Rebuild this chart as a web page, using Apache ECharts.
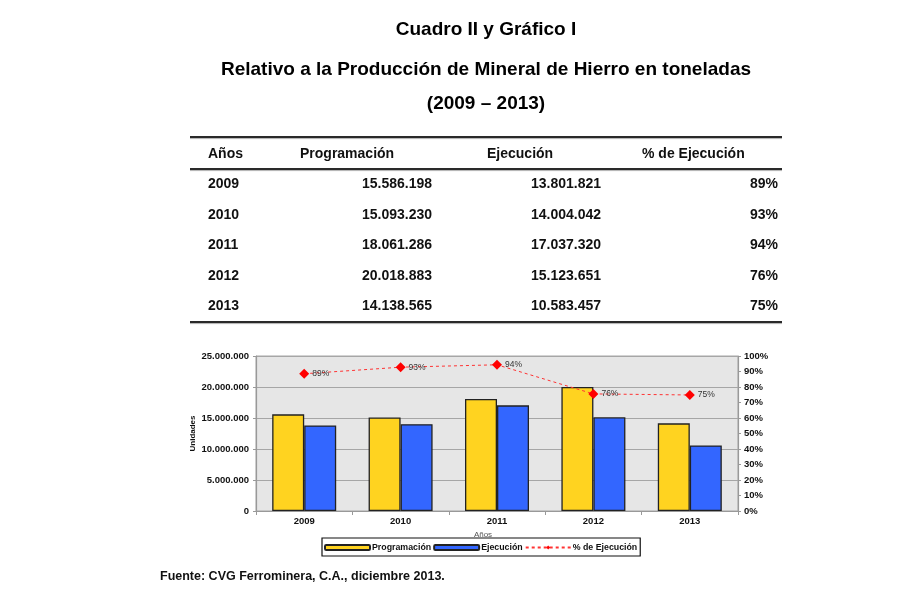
<!DOCTYPE html>
<html>
<head>
<meta charset="utf-8">
<script src="https://cdn.jsdelivr.net/npm/echarts@6/dist/echarts.min.js"></script>
<style>
html,body{margin:0;padding:0;background:#fff;}
#c{width:900px;height:600px;}
</style>
</head>
<body>
<div id="c"></div>
<script>
var years = ['2009', '2010', '2011', '2012', '2013'];
var programacion = [15586198, 15093230, 18061286, 20018883, 14138565];
var ejecucion = [13801821, 14004042, 17037320, 15123651, 10583457];
var pctEjecucion = [0.8855, 0.9278, 0.9433, 0.7555, 0.7486];
var leftTicks = [0, 5000000, 10000000, 15000000, 20000000, 25000000];
var titleLines = ['Cuadro II y Gráfico I', 'Relativo a la Producción de Mineral de Hierro en toneladas', '(2009 \u2013 2013)'];
var tableHeaders = ['Años', 'Programación', 'Ejecución', '% de Ejecución'];
var fuente = 'Fuente: CVG Ferrominera, C.A., diciembre 2013.';

var FONT = "'Liberation Sans', Arial, sans-serif";
function dots(v) { return String(Math.round(v)).replace(/\B(?=(\d{3})+(?!\d))/g, '.'); }
function pct(v) { return Math.round(v * 100) + '%'; }

var g = [];
function txt(t, x, y, size, align, color, weight) {
  g.push({ type: 'text', silent: true, style: {
    text: t, x: x, y: y, fill: color || '#111',
    font: (weight || 'bold') + ' ' + size + 'px ' + FONT,
    textAlign: align || 'left', textVerticalAlign: 'middle',
    align: align || 'left', verticalAlign: 'middle'
  }});
}
function hline(y, x1, x2) {
  g.push({ type: 'line', silent: true, shape: { x1: x1, y1: y, x2: x2, y2: y }, style: { stroke: '#2a2a2a', lineWidth: 2.2 } });
  g.push({ type: 'line', silent: true, shape: { x1: x1, y1: y + 1.6, x2: x2, y2: y + 1.6 }, style: { stroke: '#9a9a9a', lineWidth: 0.8 } });
}
// titles
var titleY = [30, 70, 104];
titleLines.forEach(function (t, i) { txt(t, 486, titleY[i], 19, 'center', '#000'); });
// table
hline(137, 190, 782);
hline(169, 190, 782);
hline(322, 190, 782);
var hdrX = [208, 300, 487, 642];
tableHeaders.forEach(function (h, i) { txt(h, hdrX[i], 154, 14, 'left', '#111'); });
var rowY = [184.5, 215, 245.5, 276, 306.5];
years.forEach(function (y, i) {
  txt(y, 208, rowY[i], 14, 'left', '#111');
  txt(dots(programacion[i]), 432, rowY[i], 14, 'right', '#111');
  txt(dots(ejecucion[i]), 601, rowY[i], 14, 'right', '#111');
  txt(pct(pctEjecucion[i]), 778, rowY[i], 14, 'right', '#111');
});
// footer
txt(fuente, 160, 577, 12.5, 'left', '#111');
// x axis name
txt('Años', 483, 535, 8, 'center', '#555', 'normal');

var chart = echarts.init(document.getElementById('c'));
chart.setOption({
  animation: false,
  textStyle: { fontFamily: FONT },
  graphic: g,
  grid: { left: 256, right: 162, top: 356, bottom: 89, show: true, backgroundColor: '#e6e6e6', borderColor: '#a6a6a6', borderWidth: 1 },
  legend: {
    left: 322, top: 538,
    data: ['Programación', 'Ejecución', '% de Ejecución'],
    borderColor: '#111', borderWidth: 1.2, padding: [5, 3, 4, 2],
    itemGap: 2, itemWidth: 45, itemHeight: 5,
    textStyle: { fontSize: 8.8, fontWeight: 'bold', color: '#111', padding: [0, 0, 0, -3] }
  },
  xAxis: {
    type: 'category', data: years,
    axisLine: { lineStyle: { color: '#999', width: 1.2 } },
    axisTick: { show: true, length: 4, lineStyle: { color: '#999' } },
    axisLabel: { fontSize: 9.5, fontWeight: 'bold', color: '#111', margin: 5 },
    splitLine: { show: false }
  },
  yAxis: [{
    type: 'value', min: 0, max: 25000000, interval: 5000000,
    name: 'Unidades', nameLocation: 'middle', nameGap: 59, nameMoveOverlap: false,
    nameTextStyle: { fontSize: 8, fontWeight: 'bold', color: '#111' },
    axisLine: { show: true, lineStyle: { color: '#999', width: 1.2 } },
    axisTick: { show: true, length: 3, lineStyle: { color: '#999' } },
    axisLabel: { fontSize: 9.5, fontWeight: 'bold', color: '#111', margin: 7, formatter: function (v) { return dots(v); } },
    splitLine: { show: true, lineStyle: { color: '#a6a6a6', width: 1 } }
  }, {
    type: 'value', min: 0, max: 1, interval: 0.1, position: 'right',
    axisLine: { show: true, lineStyle: { color: '#999', width: 1.2 } },
    axisTick: { show: true, length: 3, lineStyle: { color: '#999' } },
    axisLabel: { fontSize: 9.5, fontWeight: 'bold', color: '#111', margin: 6, formatter: function (v) { return Math.round(v * 100) + '%'; } },
    splitLine: { show: false }
  }],
  series: [{
    name: 'Programación', type: 'bar', data: programacion,
    barWidth: 32, barGap: '0%',
    itemStyle: { color: '#ffd320', borderColor: '#222', borderWidth: 1.3 }
  }, {
    name: 'Ejecución', type: 'bar', data: ejecucion,
    barWidth: 32,
    itemStyle: { color: '#3366ff', borderColor: '#222', borderWidth: 1.3 }
  }, {
    name: '% de Ejecución', type: 'line', yAxisIndex: 1, data: pctEjecucion,
    symbol: 'diamond', symbolSize: 10,
    itemStyle: { color: '#ff0000' },
    lineStyle: { color: '#ff3333', width: 1, type: [3, 3] },
    label: { show: true, position: 'right', distance: 3, fontSize: 8.5, color: '#333', formatter: function (p) { return pct(p.value); } },
    z: 5
  }]
});
</script>
</body>
</html>
